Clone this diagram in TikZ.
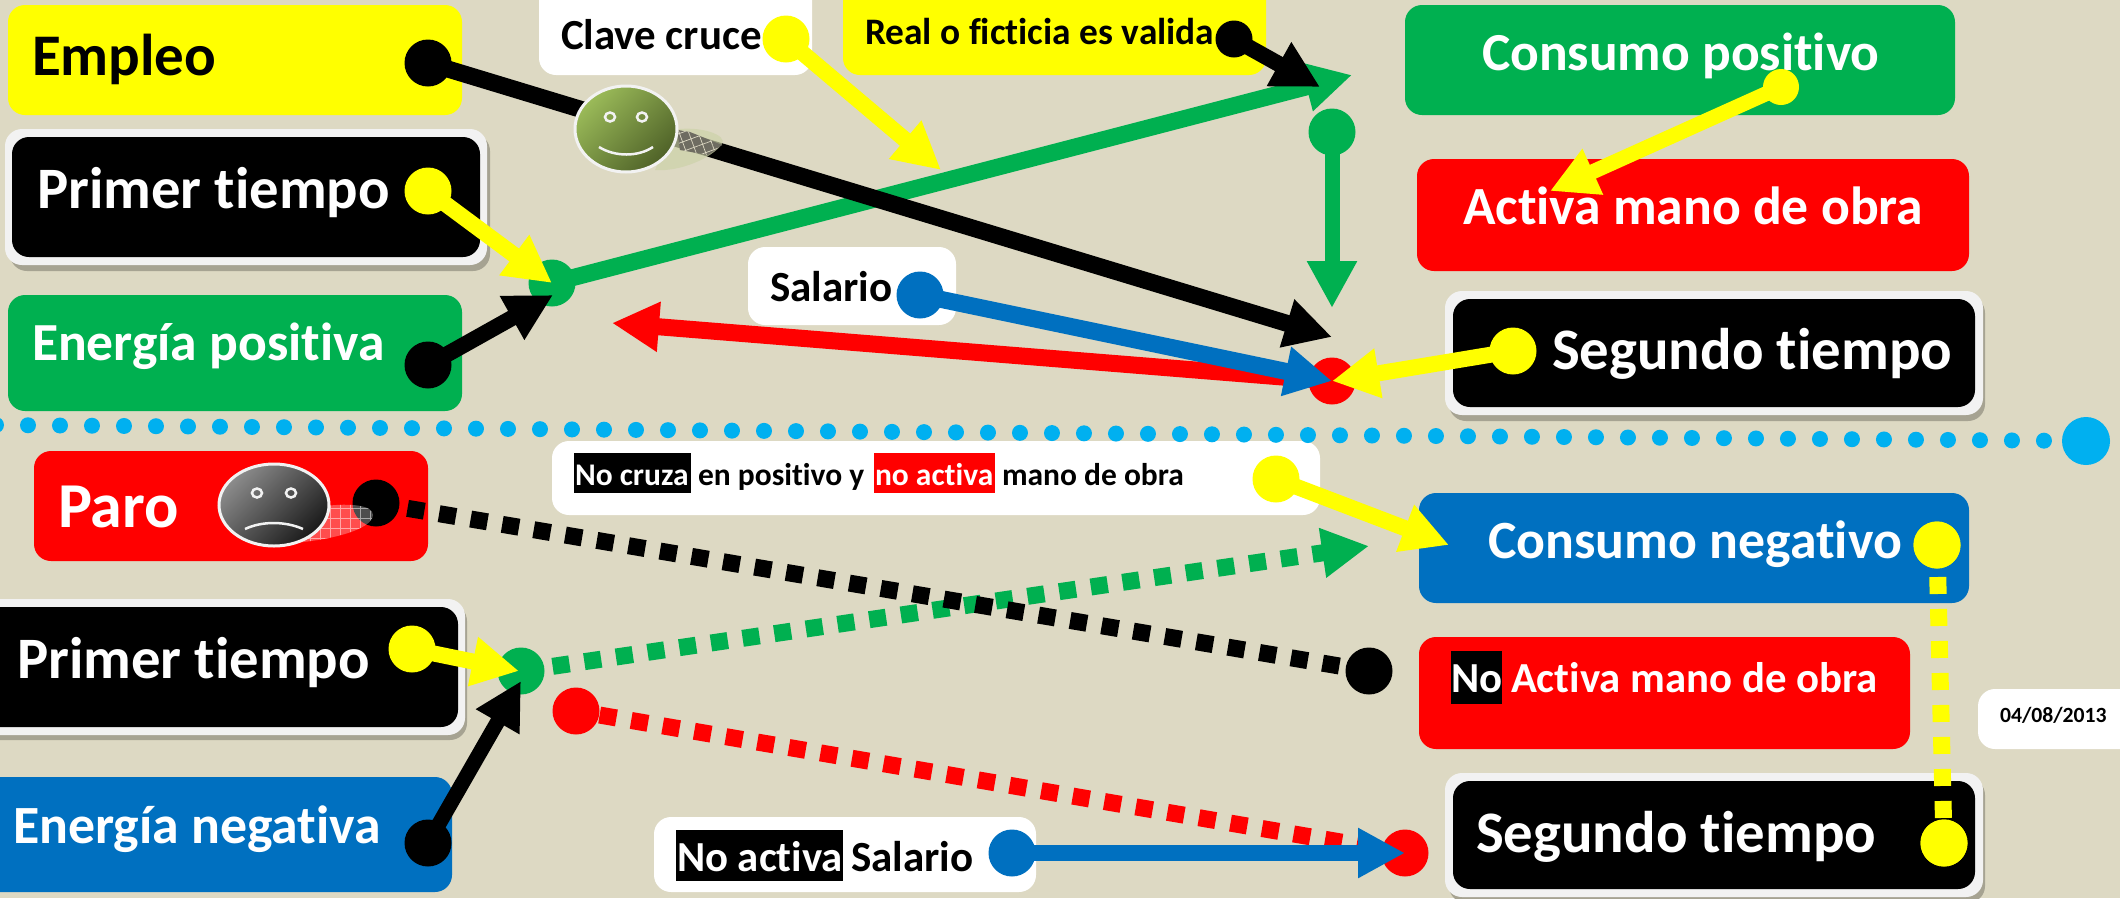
\documentclass[tikz,border=0pt]{standalone}
\usepackage{fontspec}
\setmainfont{Carlito}[Ligatures=NoCommon]
\usetikzlibrary{arrows.meta,shapes.geometric,patterns.meta}
\definecolor{bg}{HTML}{DDD9C3}
\definecolor{gr}{HTML}{00B050}
\definecolor{rd}{HTML}{FF0000}
\definecolor{bl}{HTML}{0070C0}
\definecolor{ye}{HTML}{FFFF00}
\definecolor{sky}{HTML}{00B0F0}
\definecolor{fr}{HTML}{F2F2F2}
\definecolor{hap}{HTML}{9BBB59}
\definecolor{hapd}{HTML}{4F6228}
\tikzset{
  boxn/.style={rectangle,rounded corners=17pt,inner sep=0pt,outer sep=0pt,draw=none},
  dot/.style={circle,inner sep=0pt,outer sep=0pt,minimum size=#1,draw=none},
  dot/.default=47pt,
  txt/.style={font=\bfseries\fontsize{#1}{#1}\selectfont,inner sep=0pt,outer sep=0pt,anchor=base west},
  hl/.style={rectangle,inner sep=0pt,outer sep=0pt,draw=none},
  con/.style={line width=17pt,-{Triangle[length=47pt,width=47pt]}},
  dsh/.style={line width=17pt,dash pattern=on 17pt off 15pt},
  face/.style={ellipse,inner sep=0pt,outer sep=0pt,draw=fr,line width=3pt}
}
\newcommand{\bx}[6]{%
  \pgfmathsetmacro\cxx{(#2+#4)/2}\pgfmathsetmacro\cyy{(#3+#5)/2}%
  \node[boxn,#6,minimum width={(#4-#2)*1pt},minimum height={(#5-#3)*1pt}] (#1) at (\cxx,\cyy) {};}
\newcommand{\hb}[6]{%
  \pgfmathsetmacro\cxx{(#2+#4)/2}\pgfmathsetmacro\cyy{(#3+#5)/2}%
  \node[hl,fill=#6,minimum width={(#4-#2)*1pt},minimum height={(#5-#3)*1pt}] (#1) at (\cxx,\cyy) {};}
\begin{document}
\begin{tikzpicture}[x=1pt,y=-1pt]
\useasboundingbox (0,0) rectangle (2120,898);
\clip (0,0) rectangle (2120,898);
\fill[bg] (0,0) rectangle (2120,898);
% boxes
\bx{bEmpleo}{8}{5}{462}{115}{fill=ye}
\bx{sPrimerA}{10}{134}{490}{271}{fill=black!25!bg}
\bx{fPrimerA}{5}{129}{487}{265}{fill=fr}
\bx{bPrimerA}{12}{137}{480}{257}{fill=black}
\bx{bEnergiaP}{8}{295}{462}{411}{fill=gr}
\bx{bClave}{539}{-20}{812}{75}{fill=white}
\bx{bReal}{843}{-20}{1266}{75}{fill=ye}
\bx{bConsP}{1405}{5}{1955}{115}{fill=gr}
\bx{bActiva}{1417}{159}{1969}{271}{fill=rd}
\bx{sSegA}{1449}{296}{1985}{421}{fill=black!25!bg}
\bx{fSegA}{1445}{291}{1983}{415}{fill=fr}
\bx{bSegA}{1453}{299}{1975}{407}{fill=black}
\bx{bSalario}{748}{247}{956}{325}{fill=white}
\bx{bParo}{34}{451}{428}{561}{fill=rd}
\bx{bNoCruza}{552}{441}{1320}{515}{fill=white}
\bx{bConsN}{1419}{493}{1969}{603}{fill=bl}
\bx{bNoActiva}{1419}{637}{1910}{749}{fill=rd}
\bx{bDate}{1978}{689}{2150}{749}{fill=white}
\bx{sSegB}{1449}{778}{1985}{903}{fill=black!25!bg}
\bx{fSegB}{1445}{773}{1983}{897}{fill=fr}
\bx{bSegB}{1453}{781}{1975}{889}{fill=black}
\bx{sPrimerB}{-20}{604}{467}{740}{fill=black!25!bg}
\bx{fPrimerB}{-25}{599}{465}{735}{fill=fr}
\bx{bPrimerB}{-25}{607}{458}{727}{fill=black}
\bx{bEnergiaN}{-25}{777}{452}{892}{fill=bl}
\bx{bNoSal}{654}{817}{1036}{892}{fill=white}
% labels
\node[txt=59,text=black] (tEmpleo) at (32,75) {Empleo};
\node[txt=58.7,text=white] (tPrimerA) at (37,208) {Primer tiempo};
\node[txt=53.6,text=white] (tEnergiaP) at (32,360) {Energía positiva};
\node[txt=42.9,text=black] (tClave) at (561,49) {Clave cruce};
\node[txt=37.4,text=black] (tReal) at (865,44) {Real o ficticia es valida};
\node[txt=53.5,text=white] (tConsP) at (1482,70) {Consumo positivo};
\node[txt=53.7,text=white] (tActiva) at (1463,224) {Activa mano de obra};
\node[txt=58.8,text=white] (tSegA) at (1552,369) {Segundo tiempo};
\node[txt=43,text=black] (tSalario) at (770,301) {Salario};
\node[txt=64,text=white] (tParo) at (58,527) {Paro};
\hb{hNoCruza}{574}{453}{691}{493}{black}
\hb{hNoAct}{874}{453}{995}{493}{rd}
\node[txt=31.5,text=white] (tNoCruza) at (575,485) {No cruza};
\node[txt=31.5,text=black] (tEnPos) at (698,485) {en positivo y};
\node[txt=31.5,text=white] (tNoAct) at (875,485) {no activa};
\node[txt=31.5,text=black] (tMano) at (1002,485) {mano de obra};
\node[txt=53.8,text=white] (tConsN) at (1488,558) {Consumo negativo};
\hb{hNo}{1451}{651}{1502}{704}{black}
\node[txt=42.8,text=white] (tNo) at (1451,692) {No};
\node[txt=42.8,text=white] (tActivaN) at (1511,692) {Activa mano de obra};
\node[txt=21.7,text=black] (tDate) at (2000,722) {04/08/2013};
\node[txt=58.8,text=white] (tSegB) at (1476,852) {Segundo tiempo};
\node[txt=58.7,text=white] (tPrimerB) at (17,678) {Primer tiempo};
\node[txt=53.8,text=white] (tEnergiaN) at (13,843) {Energía negativa};
\hb{hNoSal}{676}{830}{843}{881}{black}
\node[txt=42.8,text=white] (tNoSal) at (677,871) {No activa};
\node[txt=43,text=black] (tSal) at (851,871) {Salario};
% dotted divider
\node[dot=48pt,fill=sky] (dSky) at (2086,441) {};
\coordinate (skyStart) at (-4,425);
\draw[sky,line width=16pt,line cap=round,dash pattern=on 0pt off 32pt] (skyStart) -- (dSky.center);
% dots
\node[dot,fill=black] (dEmpleo) at (428,63) {};
\node[dot,fill=ye] (dClave) at (786,39) {};
\node[dot,fill=ye] (dPrimerA) at (428,191) {};
\node[dot,fill=black] (dEnergiaP) at (428,365) {};
\node[dot,fill=gr] (jGreen) at (552,283) {};
\node[dot=37pt,fill=black] (dReal) at (1234,39) {};
\node[dot,fill=gr] (dGreen) at (1332,132) {};
\node[dot=36pt,fill=ye] (dConsP) at (1781,87) {};
\node[dot,fill=rd] (jRed) at (1332,381) {};
\node[dot,fill=ye] (dSegA) at (1513,351) {};
\node[dot,fill=bl] (dSalario) at (920,295) {};
\node[dot,fill=black] (dParo) at (376,503) {};
\node[dot,fill=black] (dEnd) at (1369,671) {};
\node[dot,fill=ye] (dNoCruza) at (1276,479) {};
\node[dot,fill=gr] (jGreenB) at (521,671) {};
\node[dot,fill=ye] (dPrimerB) at (412,649) {};
\node[dot,fill=black] (dEnergiaN) at (428,843) {};
\node[dot,fill=rd] (dRedB) at (576,711) {};
\node[dot,fill=rd] (jRedB) at (1405,853) {};
\node[dot,fill=bl] (dNoSal) at (1012,853) {};
\node[dot,fill=ye] (dConsN) at (1937,545) {};
\node[dot,fill=ye] (dSegB) at (1944,843) {};
% arrow ends
\coordinate (eClave) at (941,170);
\coordinate (ePrimerA) at (552,283);
\coordinate (eEnergiaP) at (553,295);
\coordinate (eGreen) at (1352,75);
\coordinate (eReal) at (1320,87);
\coordinate (eGreenV) at (1332,308);
\coordinate (eEmpleo) at (1332,337);
\coordinate (eRed) at (612,323);
\coordinate (eConsP) at (1550,191);
\coordinate (eNoCruza) at (1449,545);
\coordinate (eGreenB) at (1369,546);
\coordinate (ePrimerB) at (519,671);
\coordinate (eEnergiaN) at (521,681);
% connectors
\draw[con,gr] (jGreen.center) -- (eGreen);
\draw[con,black] (dEmpleo.center) -- (eEmpleo);
\draw[con,ye,line width=16pt] (dClave.center) -- (eClave);
\draw[con,ye,line width=16pt] (dPrimerA.center) -- (ePrimerA);
\draw[con,black,line width=16pt] (dEnergiaP.center) -- (eEnergiaP);
\draw[con,black,line width=16pt] (dReal.center) -- (eReal);
\draw[con,gr,line width=15pt] (dGreen.center) -- (eGreenV);
\draw[con,rd] (jRed.center) -- (eRed);
\draw[con,bl] (dSalario.center) -- (jRed.center);
\draw[con,ye,line width=16pt] (dSegA.center) -- (jRed.center);
\draw[con,ye,line width=15pt] (dConsP.center) -- (eConsP);
\draw[dsh,gr,-{Triangle[length=47pt,width=47pt]}] (jGreenB.center) -- (eGreenB);
\draw[dsh,black] (dParo.center) -- (dEnd.center);
\draw[con,ye,line width=16pt] (dNoCruza.center) -- (eNoCruza);
\draw[con,ye,line width=16pt] (dPrimerB.center) -- (ePrimerB);
\draw[con,black,line width=15pt] (dEnergiaN.center) -- (eEnergiaN);
\draw[dsh,rd,dash phase=8pt] (dRedB.center) -- (jRedB.center);
\draw[con,bl,line width=16pt] (dNoSal.center) -- (jRedB.center);
\draw[dsh,ye] (dConsN.center) -- (dSegB.center);
% re-lay dots hidden by lines
\node[dot,fill=ye] at (dConsN) {};
\node[dot,fill=ye] at (dSegB) {};
% happy face
\fill[hap!25!bg,opacity=.7] (672,130) .. controls (700,125) and (728,135) .. (722,144) .. controls (712,158) and (680,172) .. (655,170) -- cycle;
\fill[black!50!bg] (677,130) -- (680,150) -- (708,155) -- (722,145) -- (690,132) -- cycle;
\fill[pattern={Hatch[angle=20,distance=9pt,line width=.7pt]},pattern color=bg] (677,130) -- (680,150) -- (708,155) -- (722,145) -- (690,132) -- cycle;
\node[face,shade,top color=hap,bottom color=hapd,shading angle=45,minimum width=102pt,minimum height=86pt] (fHappy) at (626,129) {};
\node[ellipse,draw=fr,line width=2.5pt,inner sep=0pt,minimum width=10pt,minimum height=9pt] (eyeHL) at (610,117) {};
\node[ellipse,draw=fr,line width=2.5pt,inner sep=0pt,minimum width=10pt,minimum height=9pt] (eyeHR) at (642,117) {};
\draw[fr,line width=2.5pt] (599,147) .. controls (615,157) and (638,157) .. (653,147);
% sad face
\fill[white,opacity=.3] (293,543) .. controls (330,540) and (372,530) .. (373,515) .. controls (373,505) and (350,503) .. (325,506) -- cycle;
\fill[pattern={Hatch[angle=0,distance=10pt,line width=.4pt]},pattern color=white,opacity=.5] (293,543) .. controls (330,540) and (372,530) .. (373,515) .. controls (373,505) and (350,503) .. (325,506) -- cycle;
\node[face,shade,top color=gray!90!white,bottom color=black!90,shading angle=45,minimum width=110pt,minimum height=82pt] (fSad) at (274,505) {};
\node[ellipse,draw=fr,line width=2.5pt,inner sep=0pt,minimum width=10pt,minimum height=9pt] (eyeSL) at (257,493) {};
\node[ellipse,draw=fr,line width=2.5pt,inner sep=0pt,minimum width=10pt,minimum height=9pt] (eyeSR) at (291,493) {};
\draw[fr,line width=2.5pt] (245,529) .. controls (262,521) and (285,521) .. (303,529);
\end{tikzpicture}
\end{document}
